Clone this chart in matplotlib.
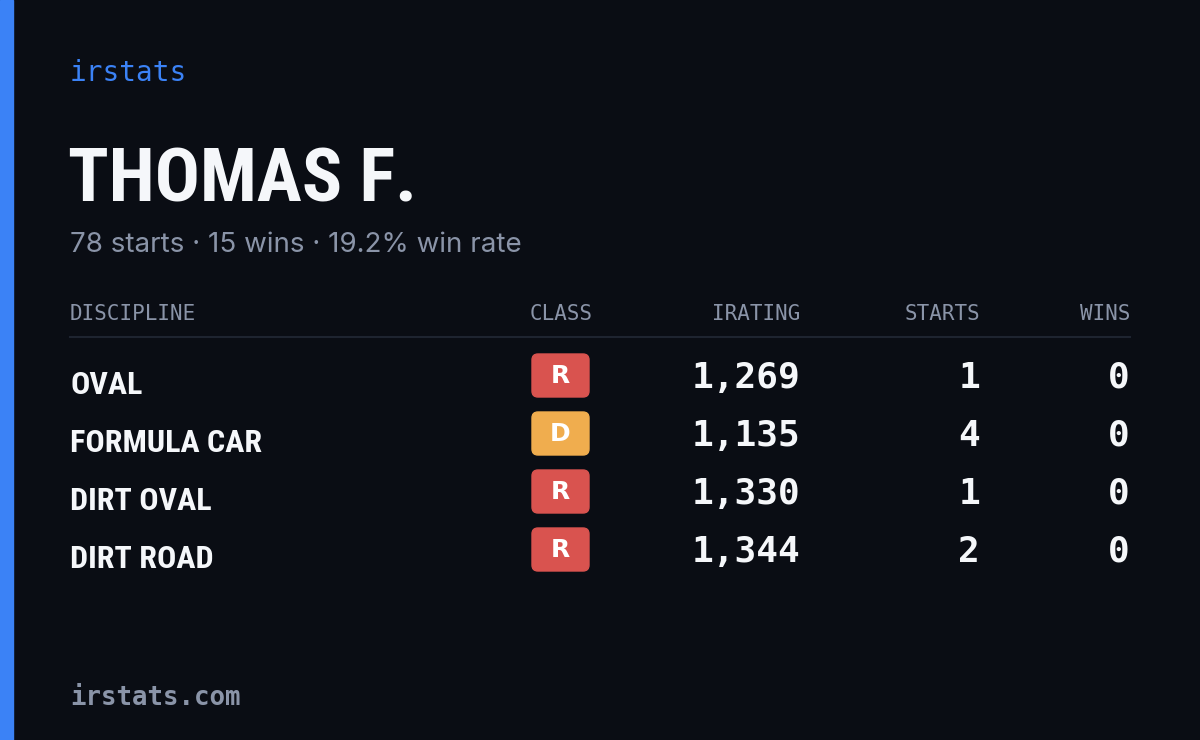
import matplotlib
matplotlib.use("Agg")
import matplotlib.pyplot as plt
from matplotlib.patches import FancyBboxPatch, Rectangle

name = "THOMAS F."
summary = "78 starts · 15 wins · 19.2% win rate"
headers = ["DISCIPLINE", "CLASS", "IRATING", "STARTS", "WINS"]
disciplines = ["OVAL", "FORMULA CAR", "DIRT OVAL", "DIRT ROAD"]
classes = ["R", "D", "R", "R"]
iratings = [1269, 1135, 1330, 1344]
starts = [1, 4, 1, 2]
wins = [0, 0, 0, 0]
class_colors = {"R": "#d9534f", "D": "#f0ad4e"}

W, H = 1200, 740
fig = plt.figure(figsize=(12, 7.4), dpi=100)
fig.patch.set_facecolor("#0a0d14")
ax = fig.add_axes([0, 0, 1, 1])
ax.set_xlim(0, W); ax.set_ylim(H, 0); ax.axis("off")

narrow = ["Liberation Sans Narrow", "Roboto Condensed", "DejaVu Sans"]
mono = ["DejaVu Sans Mono"]
ax.add_patch(Rectangle((0, 0), 13, H, color="#3b82f6"))
ax.text(70, 73, "irstats", color="#3b82f6", fontsize=20, family=mono, va="center")
ax.text(68, 182, name, color="#f5f7fa", fontsize=54, family=narrow, weight="bold", va="center")
ax.text(70, 245, summary, color="#8a94a8", fontsize=20, family=["Inter", "DejaVu Sans"], va="center")

hx = [70, 593, 800, 980, 1130]
ha = ["left", "right", "right", "right", "right"]
for x, h, a in zip(hx, headers, ha):
    ax.text(x, 314, h, color="#8a94a8", fontsize=15, family=mono, ha=a, va="center")
ax.plot([70, 1130], [337, 337], color="#1e2430", lw=1.5)

for i, (d, c, r, s, w) in enumerate(zip(disciplines, classes, iratings, starts, wins)):
    y = 380 + 58 * i
    ax.text(70, y + 5, d, color="#f5f7fa", fontsize=23, family=narrow, weight="bold", va="center")
    ax.add_patch(FancyBboxPatch((532, y - 26), 57, 43, boxstyle="round,pad=0,rounding_size=6",
                                color=class_colors[c]))
    ax.text(560, y - 4, c, color="white", fontsize=18, family=["DejaVu Sans"], weight="bold",
            ha="center", va="center")
    for x, v in zip(hx[2:], [f"{r:,}", str(s), str(w)]):
        ax.text(x, y - 2, v, color="#f5f7fa", fontsize=26, family=mono, weight="bold",
                ha="right", va="center")

ax.text(70, 698, "irstats.com", color="#8a94a8", fontsize=18.5, family=mono, weight="bold", va="center")
fig.savefig("out.png", dpi=100, facecolor=fig.get_facecolor())
